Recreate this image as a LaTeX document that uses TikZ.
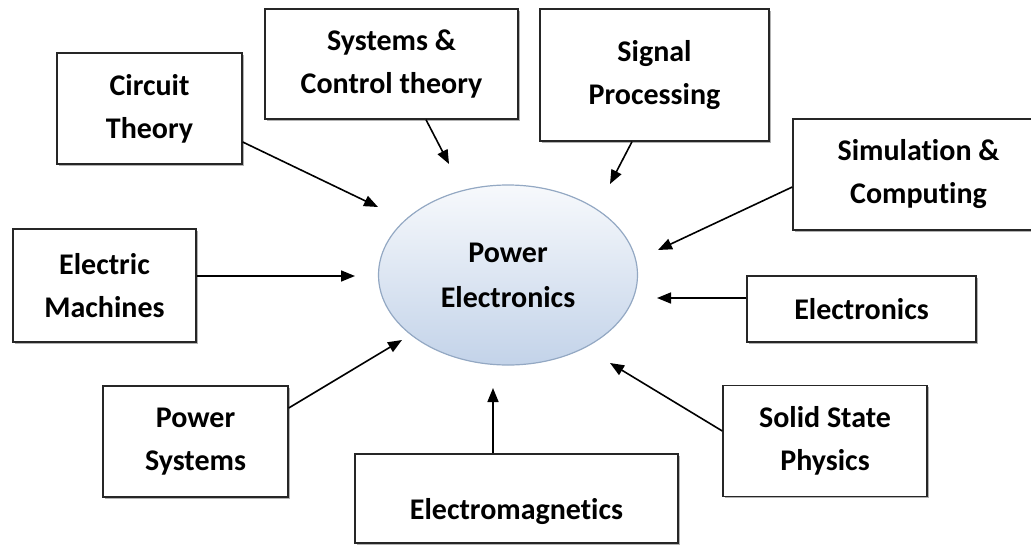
\documentclass[tikz,border=0pt]{standalone}
\usepackage{fontspec}
\setmainfont{Carlito}[Ligatures=NoCommon]
\usetikzlibrary{arrows.meta,shapes.geometric,shadows}

\definecolor{peTop}{HTML}{F7F9FC}
\definecolor{peBottom}{HTML}{C3D3E9}
\definecolor{peEdge}{HTML}{93A8C3}

\begin{document}
\begin{tikzpicture}[x=1pt,y=-1pt,>={Triangle[length=14pt,width=11pt]},
    topic/.style={draw=black!85, line width=1.4pt, fill=white, align=center,
      inner sep=0pt, font=\fontsize{30}{43}\selectfont\bfseries,
      drop shadow={shadow xshift=1.5pt, shadow yshift=-1.8pt, fill=black!30, opacity=1}},
    feed/.style={->, line width=1.6pt}]
  \useasboundingbox (0,0) rectangle (1031,544);

  % centre
  \node[ellipse, draw=peEdge, line width=1.2pt, top color=peTop, bottom color=peBottom,
    minimum width=259pt, minimum height=180pt, align=center,
    font=\fontsize{30}{45}\selectfont\bfseries] (pe) at (508,275) {Power\\Electronics};

  % surrounding topics
  \node[topic, minimum width=185pt, minimum height=111pt] (ct) at (149.5,108.5) {Circuit\\Theory};
  \node[topic, minimum width=253pt, minimum height=110pt] (sc) at (391.5,64) {Systems \&\\Control theory};
  \node[topic, minimum width=229pt, minimum height=132pt] (sp) at (654.5,75) {Signal\\Processing};
  \node[topic, minimum width=251pt, minimum height=111pt] (sim) at (918.5,174.5) {Simulation \&\\Computing};
  \node[topic, minimum width=183pt, minimum height=113pt] (em) at (104.5,285.5) {Electric\\Machines};
  \node[topic, minimum width=229pt, minimum height=66pt] (el) at (861.5,309) {Electronics};
  \node[topic, minimum width=185pt, minimum height=111pt] (ps) at (195.5,441.5) {Power\\Systems};
  \node[topic, minimum width=323pt, minimum height=89pt, text height=47pt, text depth=6pt]
    (emg) at (516.5,498.5) {Electromagnetics};
  \node[topic, minimum width=204pt, minimum height=111pt] (ssp) at (825,441) {Solid State\\Physics};

  % arrow tips near the ellipse
  \coordinate (tct) at (378,207);
  \coordinate (tsc) at (449,164);
  \coordinate (tsp) at (610,184);
  \coordinate (tsim) at (658,250);
  \coordinate (tem) at (355,276);
  \coordinate (tel) at (657,298);
  \coordinate (tps) at (402,340);
  \coordinate (temg) at (493,388);
  \coordinate (tssp) at (610,363);

  \draw[feed] ([yshift=-33.5pt]ct.east) -- (tct);
  \draw[feed] ([xshift=34.5pt]sc.south) -- (tsc);
  \draw[feed] ([xshift=-22.5pt]sp.south) -- (tsp);
  \draw[feed] ([yshift=-12.5pt]sim.west) -- (tsim);
  \draw[feed] ([yshift=9.5pt]em.east) -- (tem);
  \draw[feed] ([yshift=11pt]el.west) -- (tel);
  \draw[feed] ([yshift=33.5pt]ps.east) -- (tps);
  \draw[feed] ([xshift=-23.5pt]emg.north) -- (temg);
  \draw[feed] ([yshift=10pt]ssp.west) -- (tssp);
\end{tikzpicture}
\end{document}
